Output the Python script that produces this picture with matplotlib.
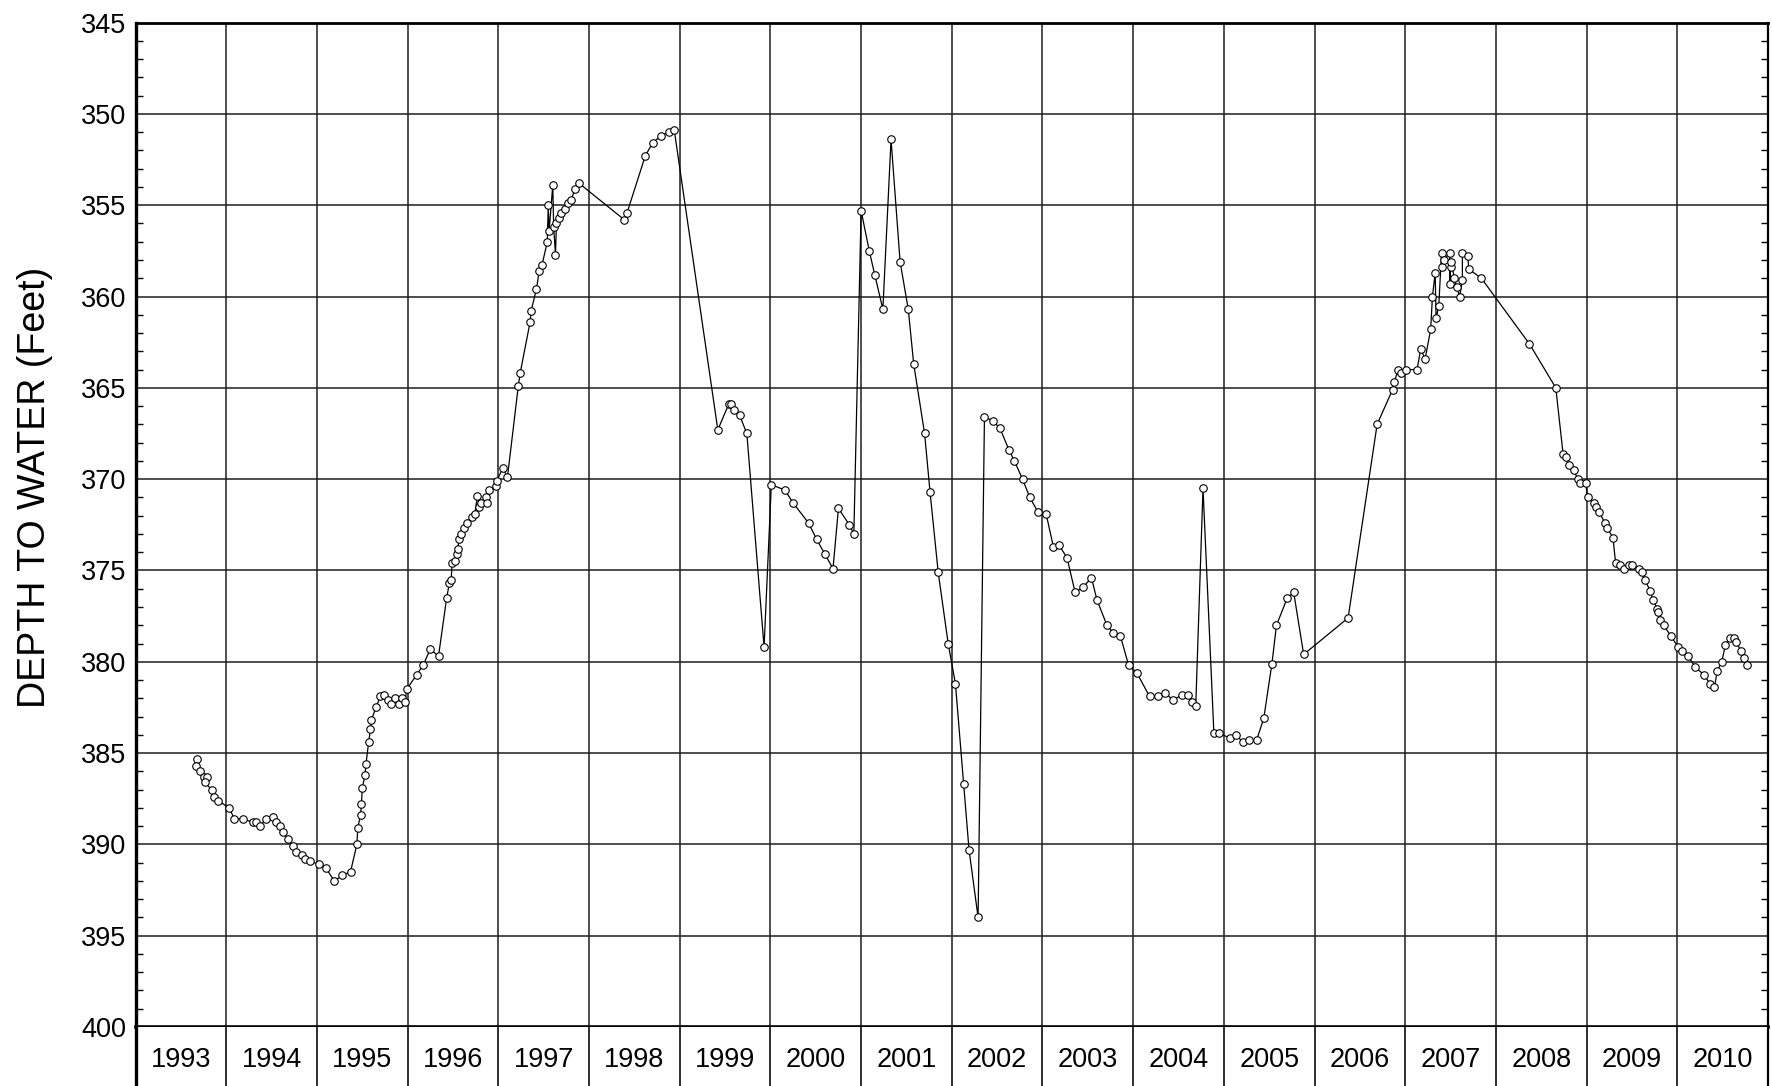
import numpy as np
import matplotlib
matplotlib.use("Agg")
import matplotlib.pyplot as plt
from matplotlib.ticker import MultipleLocator

plt.rcParams['font.family'] = ['Liberation Sans', 'DejaVu Sans']

# measurement dates (decimal years) and depth to water (feet)
dates = [
    1993.68, 1993.67, 1993.71, 1993.75, 1993.79, 1993.76, 1993.84, 1993.86, 1993.91,
    1994.03, 1994.09, 1994.18, 1994.30, 1994.33, 1994.37, 1994.44, 1994.51, 1994.55,
    1994.59, 1994.62, 1994.68, 1994.74, 1994.77, 1994.83, 1994.87, 1994.92,
    1995.02, 1995.10, 1995.19, 1995.28, 1995.37, 1995.44, 1995.45, 1995.48, 1995.49,
    1995.50, 1995.53, 1995.54, 1995.57, 1995.59, 1995.60, 1995.65, 1995.70, 1995.74,
    1995.78, 1995.82, 1995.86, 1995.90, 1995.94, 1995.97, 1995.99,
    1996.10, 1996.17, 1996.25, 1996.34, 1996.43, 1996.46, 1996.48, 1996.49, 1996.52,
    1996.54, 1996.55, 1996.57, 1996.59, 1996.62, 1996.65, 1996.71, 1996.74, 1996.77,
    1996.79, 1996.81, 1996.86, 1996.87, 1996.90, 1996.97, 1996.98,
    1997.05, 1997.10, 1997.22, 1997.24, 1997.35, 1997.36, 1997.42, 1997.45, 1997.48,
    1997.54, 1997.55, 1997.56, 1997.60, 1997.61, 1997.63, 1997.64, 1997.67, 1997.69,
    1997.73, 1997.77, 1997.80, 1997.85, 1997.89,
    1998.39, 1998.42, 1998.62, 1998.70, 1998.79, 1998.88, 1998.94,
    1999.42, 1999.54, 1999.57, 1999.60, 1999.66, 1999.74, 1999.93,
    2000.01, 2000.16, 2000.25, 2000.42, 2000.51, 2000.60, 2000.69, 2000.75, 2000.87, 2000.92,
    2001.00, 2001.09, 2001.15, 2001.24, 2001.33, 2001.43, 2001.52, 2001.58, 2001.70,
    2001.76, 2001.85, 2001.96,
    2002.04, 2002.13, 2002.19, 2002.29, 2002.36, 2002.45, 2002.53, 2002.63, 2002.69,
    2002.78, 2002.86, 2002.95,
    2003.04, 2003.12, 2003.18, 2003.27, 2003.36, 2003.45, 2003.54, 2003.60, 2003.71,
    2003.78, 2003.86, 2003.95,
    2004.04, 2004.18, 2004.27, 2004.35, 2004.44, 2004.54, 2004.60, 2004.65, 2004.69,
    2004.77, 2004.89, 2004.95,
    2005.07, 2005.13, 2005.21, 2005.28, 2005.36, 2005.44, 2005.53, 2005.58, 2005.70,
    2005.77, 2005.88,
    2006.37, 2006.69, 2006.86, 2006.88, 2006.92, 2006.95,
    2007.01, 2007.13, 2007.17, 2007.22, 2007.28, 2007.30, 2007.33, 2007.34, 2007.37,
    2007.40, 2007.41, 2007.43, 2007.49, 2007.49, 2007.50, 2007.51, 2007.54, 2007.57,
    2007.60, 2007.63, 2007.63, 2007.69, 2007.70, 2007.84,
    2008.37, 2008.66, 2008.74, 2008.77, 2008.81, 2008.86, 2008.90, 2008.93, 2008.99,
    2009.01, 2009.08, 2009.10, 2009.14, 2009.20, 2009.23, 2009.29, 2009.32, 2009.37,
    2009.41, 2009.47, 2009.50, 2009.58, 2009.61, 2009.64, 2009.70, 2009.73, 2009.78,
    2009.79, 2009.81, 2009.85, 2009.93,
    2010.01, 2010.05, 2010.12, 2010.20, 2010.29, 2010.36, 2010.41, 2010.44, 2010.49,
    2010.53, 2010.58, 2010.62, 2010.65, 2010.70, 2010.74, 2010.77,
]
depth = [
    385.3, 385.7, 386.0, 386.3, 386.3, 386.6, 387.0, 387.4, 387.6,
    388.0, 388.6, 388.6, 388.8, 388.8, 389.0, 388.6, 388.5, 388.8,
    389.0, 389.3, 389.7, 390.1, 390.4, 390.6, 390.8, 390.9,
    391.1, 391.3, 392.0, 391.7, 391.5, 390.0, 389.1, 388.4, 387.8,
    386.9, 386.2, 385.6, 384.4, 383.7, 383.2, 382.5, 381.9, 381.8,
    382.1, 382.3, 382.0, 382.3, 382.0, 382.2, 381.5,
    380.7, 380.2, 379.3, 379.7, 376.5, 375.7, 375.5, 374.6, 374.5,
    374.1, 373.8, 373.3, 373.0, 372.7, 372.4, 372.1, 371.9, 370.9,
    371.5, 371.3, 371.0, 371.3, 370.6, 370.4, 370.1,
    369.4, 369.9, 364.9, 364.2, 361.4, 360.8, 359.6, 358.6, 358.3,
    357.0, 355.0, 356.4, 353.9, 356.2, 357.7, 356.0, 355.7, 355.4,
    355.2, 354.9, 354.7, 354.1, 353.8,
    355.8, 355.4, 352.3, 351.6, 351.2, 351.0, 350.9,
    367.3, 365.9, 365.9, 366.2, 366.5, 367.5, 379.2,
    370.3, 370.6, 371.3, 372.4, 373.3, 374.1, 374.9, 371.6, 372.5, 373.0,
    355.3, 357.5, 358.8, 360.7, 351.4, 358.1, 360.7, 363.7, 367.5,
    370.7, 375.1, 379.0,
    381.2, 386.7, 390.3, 394.0, 366.6, 366.8, 367.2, 368.4, 369.0,
    370.0, 371.0, 371.8,
    371.9, 373.7, 373.6, 374.3, 376.2, 375.9, 375.4, 376.6, 378.0,
    378.4, 378.6, 380.2,
    380.6, 381.9, 381.9, 381.7, 382.1, 381.8, 381.8, 382.2, 382.4,
    370.5, 383.9, 383.9,
    384.2, 384.0, 384.4, 384.3, 384.3, 383.1, 380.1, 378.0, 376.5,
    376.2, 379.6,
    377.6, 367.0, 365.1, 364.7, 364.0, 364.2,
    364.0, 364.0, 362.9, 363.4, 361.8, 360.0, 358.7, 361.2, 360.5,
    357.6, 358.4, 358.0, 357.6, 359.3, 358.4, 358.1, 359.0, 359.5,
    360.0, 359.1, 357.6, 357.8, 358.5, 359.0,
    362.6, 365.0, 368.6, 368.8, 369.2, 369.5, 370.0, 370.2, 370.2,
    371.0, 371.3, 371.5, 371.8, 372.4, 372.7, 373.2, 374.6, 374.7,
    374.9, 374.7, 374.7, 374.9, 375.1, 375.5, 376.1, 376.6, 377.1,
    377.3, 377.7, 378.0, 378.6,
    379.2, 379.4, 379.7, 380.3, 380.7, 381.2, 381.4, 380.5, 380.0,
    379.1, 378.7, 378.7, 378.9, 379.4, 379.8, 380.2,
]

years = list(range(1993, 2011))
yticks = list(range(345, 401, 5))

W, H = 1772, 1086
fig = plt.figure(figsize=(W / 100, H / 100), dpi=100)
left, right = 135.6 / W, 1768 / W
ax = fig.add_axes([left, 59 / H, right - left, (1027 - 22.6) / H])
strip = fig.add_axes([left, 0, right - left, 59 / H], sharex=ax)

grid_c = '#1e1e1e'
for y in yticks:
    ax.axhline(y, color=grid_c, lw=1.1, zorder=1)
for yr in years[1:]:
    ax.axvline(yr, color=grid_c, lw=1.1, zorder=1)
    strip.axvline(yr, color=grid_c, lw=1.3)

ax.plot(dates, depth, color='black', lw=0.9, marker='o', markersize=5.4,
        markerfacecolor='white', markeredgecolor='black', markeredgewidth=0.8, zorder=3)

ax.set_xlim(1993, 2011)
ax.set_ylim(400, 345)
ax.set_yticks(yticks)
ax.set_yticklabels([str(v) for v in yticks], fontsize=19.5)
ax.yaxis.set_minor_locator(MultipleLocator(1))
ax.tick_params(axis='y', which='major', length=0, pad=7)
ax.tick_params(axis='y', which='minor', direction='in', length=5, width=1.0,
               left=True, right=True)
ax.tick_params(axis='x', which='both', bottom=False, labelbottom=False)
ax.set_ylabel('DEPTH TO WATER (Feet)', fontsize=27, labelpad=20, y=0.537)

ax.spines['left'].set_linewidth(2.4)
ax.spines['top'].set_linewidth(2.0)
ax.spines['bottom'].set_linewidth(2.6)
ax.spines['right'].set_linewidth(1.6)

strip.set_ylim(0, 1)
strip.set_yticks([])
strip.tick_params(axis='x', which='both', bottom=False, labelbottom=False)
strip.spines['top'].set_visible(False)
strip.spines['bottom'].set_visible(False)
strip.spines['left'].set_linewidth(2.4)
strip.spines['right'].set_linewidth(1.6)
for yr in years:
    strip.text(yr + 0.5, 0.44, str(yr), ha='center', va='center', fontsize=19.5)

fig.savefig('out.png', dpi=100)
